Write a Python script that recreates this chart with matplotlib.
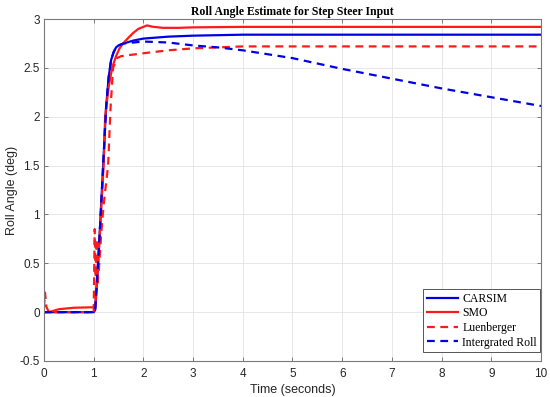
import matplotlib
matplotlib.use("Agg")
import matplotlib.pyplot as plt

plt.rcParams['axes.unicode_minus'] = False

# CARSIM (reference)
t_carsim = [0.0, 1.0, 1.03, 1.1, 1.19, 1.25, 1.3, 1.35, 1.4, 1.45, 1.5, 1.6, 1.8, 2.0, 2.5, 3.0, 4.0, 6.0, 10.0]
v_carsim = [0.0, 0.0, 0.02, 0.6, 1.5, 2.1, 2.4, 2.58, 2.66, 2.71, 2.73, 2.75, 2.78, 2.8, 2.82, 2.83, 2.84, 2.84, 2.84]

# SMO
t_smo = [0.0, 0.1, 0.3, 0.6, 1.0, 1.03, 1.1, 1.2, 1.23, 1.3, 1.37, 1.45, 1.52, 1.59, 1.7, 1.8, 1.9, 2.0, 2.07, 2.2, 2.4, 2.7, 3.0, 4.0, 10.0]
v_smo = [0.0, 0.0, 0.03, 0.045, 0.05, 0.05, 0.6, 1.5, 2.0, 2.3, 2.5, 2.62, 2.7, 2.75, 2.81, 2.86, 2.9, 2.92, 2.935, 2.92, 2.91, 2.91, 2.915, 2.92, 2.92]

# Luenberger
t_lue = [0.0, 0.02, 0.05, 0.1, 1.0, 1.02, 1.04, 1.06, 1.08, 1.1, 1.15, 1.2, 1.29, 1.34, 1.39, 1.47, 1.55, 1.69, 1.85, 2.0, 2.5, 3.0, 3.5, 4.0, 10.0]
v_lue = [0.05, 0.2, 0.05, 0.0, 0.0, 0.85, 0.35, 0.75, 0.3, 0.4, 0.8, 1.1, 1.5, 2.1, 2.5, 2.6, 2.62, 2.63, 2.64, 2.65, 2.68, 2.7, 2.71, 2.72, 2.72]

# Integrated Roll
t_int = [0.0, 1.0, 1.03, 1.1, 1.19, 1.25, 1.3, 1.35, 1.4, 1.45, 1.5, 1.6, 1.8, 2.0, 2.5, 3.0, 3.5, 4.0, 5.0, 6.0, 7.0, 8.0, 9.0, 10.0]
v_int = [0.0, 0.0, 0.02, 0.6, 1.5, 2.1, 2.4, 2.58, 2.66, 2.71, 2.73, 2.75, 2.76, 2.77, 2.76, 2.73, 2.71, 2.68, 2.6, 2.49, 2.39, 2.29, 2.2, 2.11]

x_ticks = [0, 1, 2, 3, 4, 5, 6, 7, 8, 9, 10]
y_ticks = [-0.5, 0, 0.5, 1, 1.5, 2, 2.5, 3]
y_labels = ["-0.5", "0", "0.5", "1", "1.5", "2", "2.5", "3"]

fig = plt.figure(figsize=(5.5, 3.97), dpi=100)
ax = fig.add_axes([0.08, 0.0907, 0.9036, 0.8613])

blue = '#0000e6'
red = '#ff1a1a'
lw = 1.6
ax.plot(t_carsim, v_carsim, color=blue, lw=lw, label='CARSIM')
ax.plot(t_smo, v_smo, color=red, lw=lw, label='SMO')
ax.plot(t_lue, v_lue, color=red, lw=lw, ls=(0, (3.5, 2.5)), label='Luenberger')
ax.plot(t_int, v_int, color=blue, lw=lw, ls=(0, (3.5, 2.5)), label='Intergrated Roll')

ax.set_xlim(0, 10)
ax.set_ylim(-0.5, 3)
ax.set_xticks(x_ticks)
ax.set_yticks(y_ticks)
ax.set_yticklabels(y_labels)
ax.grid(True, color='#e3e3e3', lw=0.6)
ax.set_axisbelow(True)
ax.tick_params(direction='in', top=True, right=True, length=3, width=0.7,
               color='#7a7a7a', labelcolor='#262626', labelsize=8.5)
ax.tick_params(axis='x', pad=5)
ax.tick_params(axis='y', pad=3)
for lab in ax.get_xticklabels() + ax.get_yticklabels():
    lab.set_family('Liberation Sans')
for s in ax.spines.values():
    s.set_color('#7a7a7a')
    s.set_linewidth(0.8)

ax.set_xlabel('Time (seconds)', fontsize=9, family='Liberation Sans', color='#262626', labelpad=3)
ax.set_ylabel('Roll Angle (deg)', fontsize=9, family='Liberation Sans', color='#262626')
ax.yaxis.set_label_coords(-0.052, 0.5)
ax.set_title('Roll Angle Estimate for Step Steer Input', fontsize=8.5, fontweight='bold',
             family='Liberation Serif', pad=3)

leg = ax.legend(loc='lower right', bbox_to_anchor=(0.999, 0.026),
                prop={'family': 'Liberation Serif', 'size': 8.5},
                fancybox=False, framealpha=1, edgecolor='#555555', borderaxespad=0.0,
                handlelength=2.6, handletextpad=0.4, labelspacing=0.22, borderpad=0.3)
leg.get_frame().set_linewidth(0.7)

fig.savefig('out.png', dpi=100)
